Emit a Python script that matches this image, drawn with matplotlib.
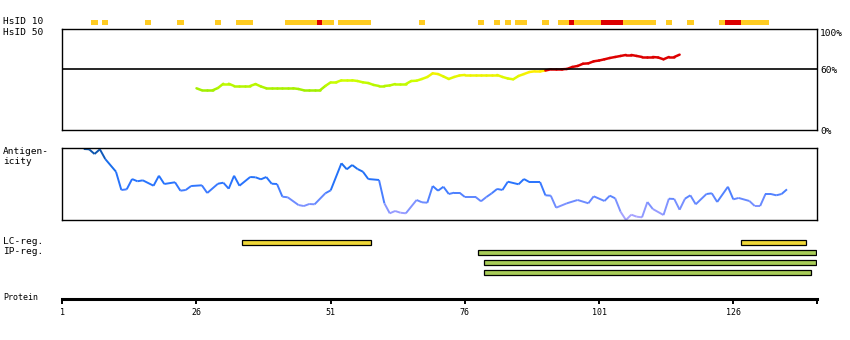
import numpy as np
import matplotlib
matplotlib.use("Agg")
import matplotlib.pyplot as plt
from matplotlib.collections import LineCollection
from matplotlib.colors import LinearSegmentedColormap

W, H = 850, 340
FONT = "DejaVu Sans Mono"

# protein axis
length_end = 141.65
ruler_ticks = [1, 26, 51, 76, 101, 126]

# HsID 10 row: residues with a hit, red = strong hit
hsid10_res = [7, 9, 17, 23, 30, 34, 35, 36] + list(range(43, 52)) + list(range(53, 59)) + \
    [68, 79, 82, 84, 86, 87, 91] + list(range(94, 112)) + [114, 118] + list(range(124, 133))
hsid10_red = [49, 96, 102, 103, 104, 105, 125, 126, 127]

# HsID 50 identity (%) for residues 26..116
hsid50_start = 26
hsid50 = [41.3, 39.3, 39.3, 39.3, 41.6, 45.8, 45.8, 43.6, 43.6, 43.6,
          43.6, 45.5, 43.1, 41.3, 41.3, 41.3, 41.3, 41.3, 41.3, 40.6,
          39.3, 39.3, 39.3, 39.3, 43.6, 47.2, 47.2, 49.2, 49.2, 49.2,
          48.5, 47.2, 46.5, 44.6, 43.6, 43.6, 44.1, 45.5, 45.5, 45.5,
          48.5, 48.8, 50.5, 52.5, 56.1, 55.4, 53.0, 50.5, 52.5, 54.0,
          54.5, 54.5, 54.5, 54.5, 54.5, 54.5, 54.5, 52.5, 51.0, 50.2,
          53.5, 55.4, 57.4, 58.1, 58.1, 58.9, 60.1, 60.1, 60.1, 60.4,
          62.4, 63.4, 65.6, 66.0, 68.0, 68.8, 70.0, 71.3, 72.3, 73.3,
          74.3, 74.3, 73.3, 72.3, 72.3, 72.3, 71.8, 70.0, 72.3, 72.3,
          74.6]

# antigenicity (normalised score) at residue positions
anti_res = [5, 6, 7, 8, 9, 11, 12, 13, 14, 15, 16, 18, 19, 20, 22, 23, 24, 25, 27, 28,
            30, 31, 32, 33, 34, 36, 37, 38, 39, 40, 41, 42, 43, 45, 46, 47, 48, 50, 51, 53,
            54, 55, 56, 57, 58, 60, 61, 62, 63, 64, 65, 67, 68, 69, 70, 71, 72, 73, 74, 75,
            76, 78, 79, 80, 81, 82, 83, 84, 86, 87, 88, 90, 91, 92, 93, 95, 97, 99, 100, 102,
            103, 104, 105, 106, 107, 108, 109, 110, 111, 113, 114, 115, 116, 117, 118, 119, 121, 122, 123, 125,
            126, 127, 129, 130, 131, 132, 133, 134, 135, 136]
anti_val = [98.6, 98.2, 91.7, 98.2, 84.7, 67.1, 41.7, 42.6, 56.9, 53.8, 55.1, 47.6, 61.5, 50.0, 52.4, 40.7, 41.7, 47.2, 48.2, 37.5,
            50.4, 51.8, 43.5, 61.5, 47.6, 59.7, 59.3, 56.5, 59.7, 50.4, 50.0, 32.4, 31.5, 20.8, 19.4, 22.2, 21.8, 37.1, 41.2, 78.8,
            70.4, 76.4, 70.8, 67.1, 56.9, 55.6, 23.2, 9.3, 12.5, 10.1, 9.3, 27.8, 24.6, 24.0, 47.2, 40.7, 46.2, 36.1, 37.9, 37.9,
            31.9, 31.9, 26.0, 31.9, 37.1, 43.1, 41.7, 53.2, 49.6, 56.9, 52.8, 52.8, 34.3, 33.8, 17.1, 23.2, 27.8, 23.2, 32.9, 26.4,
            33.8, 30.1, 11.5, 0.0, 7.4, 4.6, 3.7, 25.0, 15.3, 6.9, 29.6, 29.2, 14.3, 29.6, 34.3, 21.8, 36.1, 37.1, 25.0, 46.2,
            28.7, 30.6, 26.4, 19.4, 19.4, 36.1, 36.1, 34.3, 36.1, 42.6]

# regions (first, last residue)
lc_regions = [(35, 58), (128, 139)]
ip_regions = [(79, 141), (80, 141), (80, 140)]


def px_axes(x0, y0, x1, y1):
    return fig.add_axes([x0 / W, 1 - y1 / H, (x1 - x0) / W, (y1 - y0) / H])


def label(x, y, s, size=6.8):
    fig.text(x / W, 1 - y / H, s, fontsize=size, family=FONT, va="center", ha="left")


fig = plt.figure(figsize=(W / 100, H / 100), dpi=100)
X0, X1 = 62.3, 817.3

# ---- HsID 10 blocks
ax10 = px_axes(X0, 18, X1, 27)
cols = ["#dd0000" if r in hsid10_red else "#ffcc22" for r in hsid10_res]
ax10.bar(hsid10_res, 1, width=1.2, color=cols, linewidth=0)
ax10.set_xlim(1, length_end)
ax10.set_ylim(-0.4, 1.4)
ax10.axis("off")

# ---- HsID 50 panel
ax50 = px_axes(X0, 29, X1, 130)
res50 = np.arange(hsid50_start, hsid50_start + len(hsid50))
pts = np.column_stack([res50, hsid50])
segs = np.stack([pts[:-1], pts[1:]], axis=1)
gcm = LinearSegmentedColormap.from_list("gy", ["#a0ee00", "#ccff00", "#ffee00"])
mid = (np.array(hsid50[:-1]) + np.array(hsid50[1:])) / 2
seg_cols = ["#dd0000" if m >= 59.5 else gcm(np.clip((m - 39) / 19, 0, 1)) for m in mid]
ax50.add_collection(LineCollection(segs, colors=seg_cols, linewidths=1.8, capstyle="round"))
ax50.axhline(60, color="black", lw=1.2)
ax50.set_xlim(1, length_end)
ax50.set_ylim(0, 100)
ax50.set_xticks([])
ax50.yaxis.tick_right()
ax50.set_yticks([0, 60, 100])
ax50.set_yticklabels(["0%", "60%", "100%"], family=FONT, fontsize=6.8)
ax50.get_yticklabels()[2].set_va("top")
ax50.tick_params(axis="y", length=0, pad=2)
for s in ax50.spines.values():
    s.set_linewidth(1.0)

# ---- antigenicity panel
axa = px_axes(X0, 148, X1, 220)
apts = np.column_stack([anti_res, anti_val])
asegs = np.stack([apts[:-1], apts[1:]], axis=1)
bcm = LinearSegmentedColormap.from_list("bl", ["#b4a8ff", "#6f8cff", "#2a74ff", "#1a6ef0", "#0a4f9e"])
amid = (np.array(anti_val[:-1]) + np.array(anti_val[1:])) / 2
axa.add_collection(LineCollection(asegs, colors=[bcm(m / 100) for m in amid], linewidths=1.4))
axa.set_xlim(1, length_end)
axa.set_ylim(0, 100)
axa.set_xticks([])
axa.set_yticks([])
for s in axa.spines.values():
    s.set_linewidth(1.0)

# ---- region bars
axr = px_axes(X0, 237.5, X1, 277.5)
for a, b in lc_regions:
    axr.barh(0, b - a + 1, left=a - 0.5, height=0.42, color="#f0d838", edgecolor="black", linewidth=0.9)
for k, (a, b) in enumerate(ip_regions):
    axr.barh(k + 1, b - a + 1, left=a - 0.5, height=0.42, color="#a8cc58", edgecolor="black", linewidth=0.9)
axr.set_xlim(1, length_end)
axr.set_ylim(3.5, -0.5)
axr.axis("off")

# ---- protein ruler
axp = px_axes(X0, 280, X1, 299)
axp.set_xlim(1, length_end)
axp.set_yticks([])
for k in ["top", "left", "right"]:
    axp.spines[k].set_visible(False)
axp.spines["bottom"].set_linewidth(2.2)
axp.set_xticks(ruler_ticks + [length_end])
axp.set_xticklabels([str(t) for t in ruler_ticks] + [""], family=FONT, fontsize=6)
axp.tick_params(axis="x", length=3.5, width=1.4, pad=3)
axp.patch.set_alpha(0)

# ---- left labels
label(3, 21.5, "HsID 10")
label(3, 32.5, "HsID 50")
label(3, 152, "Antigen-")
label(3, 162, "icity")
label(3, 242, "LC-reg.")
label(3, 252, "IP-reg.")
label(3, 298, "Protein", size=6)

fig.savefig("out.png", dpi=100)
